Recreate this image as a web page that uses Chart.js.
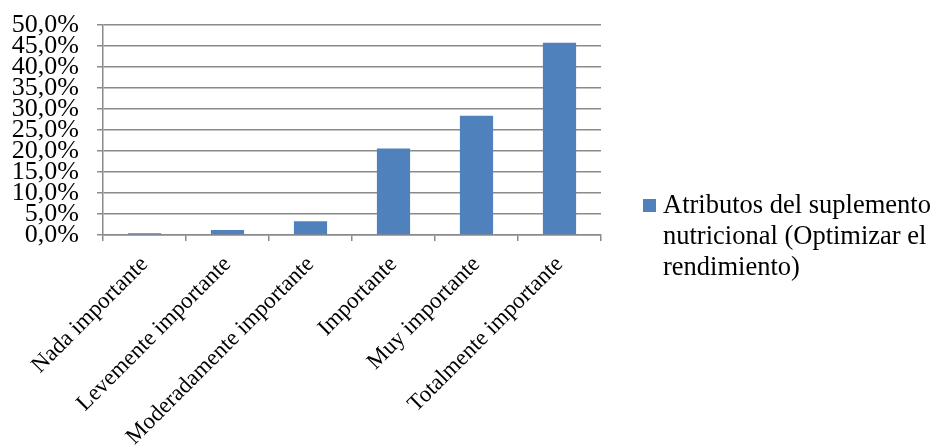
<!DOCTYPE html>
<html>
<head>
<meta charset="utf-8">
<script src="https://cdn.jsdelivr.net/npm/chart.js@4/dist/chart.umd.min.js"></script>
<style>
  html, body { margin: 0; padding: 0; background: #fff; }
  #wrap { width: 935px; height: 448px; }
</style>
</head>
<body>
<div id="wrap"><canvas id="barChart" width="935" height="448"></canvas></div>
<script>
'use strict';

/* ---- Data ---- */
const categories = [
  'Nada importante',
  'Levemente importante',
  'Moderadamente importante',
  'Importante',
  'Muy importante',
  'Totalmente importante'
];
const seriesLabel = 'Atributos del suplemento nutricional (Optimizar el rendimiento)';
const seriesValues = [0.4, 1.2, 3.3, 20.6, 28.4, 45.8];
const yTicks = [0, 5, 10, 15, 20, 25, 30, 35, 40, 45, 50];

/* ---- Styles ---- */
const BAR_COLOR = '#4f81bd';
const GRID = '#8a8a8a';
const FONT = "'Liberation Serif', 'Times New Roman', serif";

/* ---- Legend drawn at the right, wrapped like the original ---- */
const sideLegend = {
  id: 'sideLegend',
  afterDraw(chart) {
    const ctx = chart.ctx;
    const ds = chart.data.datasets[0];
    const x = 643, y = 199, maxW = 280, lineH = 31;
    ctx.save();
    ctx.fillStyle = ds.backgroundColor;
    ctx.fillRect(x, y, 13, 13);
    ctx.font = '26.5px ' + FONT;
    ctx.fillStyle = '#000';
    ctx.textBaseline = 'alphabetic';
    const words = ds.label.split(' ');
    const lines = [];
    let cur = '';
    words.forEach(w => {
      const test = cur ? cur + ' ' + w : w;
      if (ctx.measureText(test).width > maxW && cur) { lines.push(cur); cur = w; }
      else cur = test;
    });
    if (cur) lines.push(cur);
    lines.forEach((ln, i) => ctx.fillText(ln, x + 20, y + 14 + i * lineH));
    ctx.restore();
  }
};

new Chart(document.getElementById('barChart'), {
  type: 'bar',
  data: {
    labels: categories,
    datasets: [{
      label: seriesLabel,
      data: seriesValues,
      backgroundColor: BAR_COLOR,
      borderWidth: 0,
      categoryPercentage: 1,
      barPercentage: 0.4
    }]
  },
  options: {
    responsive: false,
    animation: false,
    layout: { padding: { top: 25, right: 334, left: 0, bottom: 0 } },
    plugins: { legend: { display: false }, tooltip: { enabled: false } },
    scales: {
      x: {
        grid: { drawOnChartArea: false, drawTicks: true, tickLength: 6, color: GRID, lineWidth: 1.5, offset: true },
        border: { color: GRID, width: 1.5 },
        ticks: {
          color: '#000', font: { family: FONT, size: 23 },
          minRotation: 45, maxRotation: 45, autoSkip: false, padding: 10
        },
        afterFit: s => { s.height = 213; s.paddingLeft = 0; s.paddingRight = 0; }
      },
      y: {
        min: 0, max: 50,
        afterBuildTicks: s => { s.ticks = yTicks.map(v => ({ value: v })); },
        grid: { color: GRID, lineWidth: 1.5, drawTicks: true, tickLength: 6 },
        border: { color: GRID, width: 1.5 },
        ticks: {
          color: '#000', font: { family: FONT, size: 26 }, padding: 18,
          autoSkip: false,
          callback: v => v.toFixed(1).replace('.', ',') + '%'
        },
        afterFit: s => { s.width = 103; s.paddingTop = 0; s.paddingBottom = 0; }
      }
    }
  },
  plugins: [sideLegend]
});
</script>
</body>
</html>
